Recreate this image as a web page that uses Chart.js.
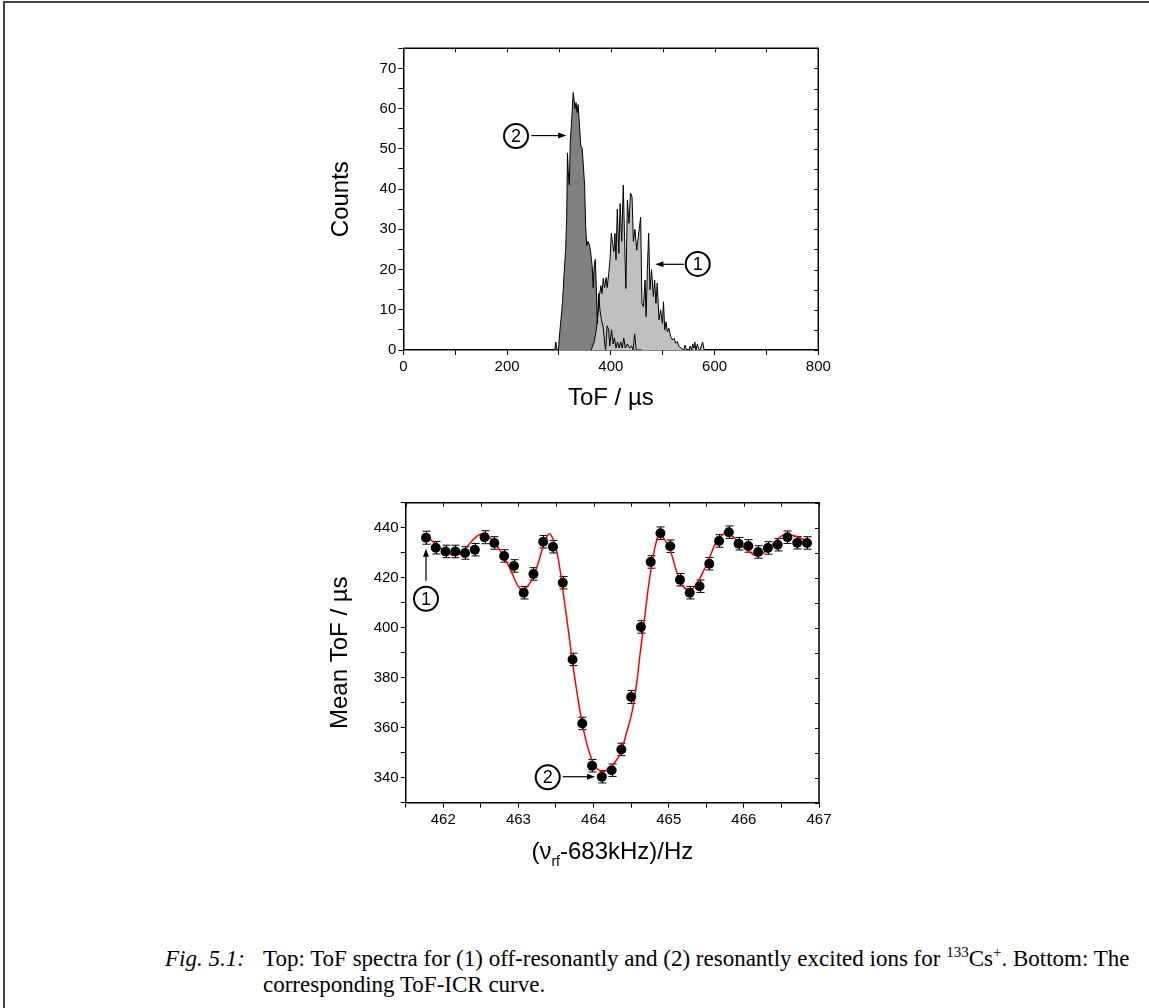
<!DOCTYPE html>
<html>
<head>
<meta charset="utf-8">
<script src="https://cdn.jsdelivr.net/npm/chart.js@4.4.0/dist/chart.umd.min.js"></script>
<style>
  html, body { margin: 0; padding: 0; background: #fff; }
  body { width: 1149px; height: 1008px; position: relative; overflow: hidden; }
  #frame { position: absolute; left: 3px; top: 1px; right: -10px; bottom: -10px;
           border-top: 2px solid #444; border-left: 2px solid #444; }
  #topChart { position: absolute; left: 0; top: 0; }
  #icrChart { position: absolute; left: 0; top: 440px; }
  #caption { position: absolute; left: 165px; top: 946px; width: 984px;
             font-family: "Liberation Serif", "Times New Roman", serif; font-size: 23px;
             line-height: 26px; color: #000; white-space: nowrap; }
  #caption .lbl { display: inline-block; width: 98px; font-style: italic; }
  #caption .l2 { padding-left: 98px; }
  #caption sup { font-size: 15px; line-height: 0; vertical-align: 9px; }
</style>
</head>
<body>
<div id="frame"></div>
<canvas id="topChart" width="1149" height="440"></canvas>
<canvas id="icrChart" width="1149" height="460"></canvas>
<div id="caption">
  <div><span class="lbl">Fig. 5.1:</span>Top: ToF spectra for (1) off-resonantly and (2) resonantly excited ions for <sup>133</sup>Cs<sup>+</sup>. Bottom: The</div>
  <div class="l2">corresponding ToF-ICR curve.</div>
</div>
<script>
// --- top panel: ToF spectra (counts per bin) ---
const tofResonant = [290, 292, 294, 296, 299, 302, 305, 307, 310, 313, 315, 316.5, 318, 320, 322, 325, 327.5, 329.5, 331, 333, 335, 337, 339, 342, 345, 347, 349.5, 351.5, 353.5, 356, 359, 361, 364, 366, 368, 370, 372, 374, 376.5, 379, 382, 385.5, 388, 390, 393, 396, 398, 401.5, 404.5, 407, 410, 413, 416, 419, 422, 425, 428, 432, 436, 440, 443, 446, 449, 460];
const countsResonant = [0, 0, 2, 0, 0, 5, 9, 12, 19, 25, 33, 49, 44, 41, 52, 58, 64, 62, 60, 61.5, 59, 61, 57, 51, 50, 46, 41, 31, 26, 27, 26, 24.5, 21, 15.5, 21, 22.5, 16, 6.5, 14, 10, 7.5, 5.5, 2, 0, 6, 5, 1, 5, 1.5, 3, 0.5, 2, 0.5, 2, 0.5, 3, 0.5, 1.5, 0.5, 1, 0, 4, 0, 0];

const tofOffRes = [362, 368, 373, 376, 378, 381, 383, 385.5, 388, 391, 393, 396, 398.5, 401, 403.5, 406, 408, 410, 412.5, 415.5, 418, 421, 424, 426.5, 429, 432, 435, 438, 441, 443.5, 446.5, 450, 453, 457.5, 460, 463, 466, 468, 470.5, 473, 475.5, 478.5, 482, 484.5, 487, 489.5, 493, 496, 499.5, 501.5, 504, 506.5, 509, 512, 515.5, 519, 522, 525, 528, 532, 537, 541, 543, 546, 551, 553, 556, 558, 560, 562, 564, 567, 569, 572, 577, 580];
const countsOffRes = [0, 2, 6, 10, 13.5, 16, 14, 17.8, 15.5, 18, 15.5, 19, 22.5, 29, 26.5, 24.5, 29, 22.4, 35, 24, 36.4, 27, 41, 28, 15.3, 37.3, 31.5, 39, 38, 27, 30, 24.8, 28, 33, 11.6, 10.8, 17.4, 8.3, 20, 29, 15, 20, 13.3, 17.4, 11.6, 16.6, 7.5, 10, 6.6, 12, 5, 7, 4.5, 5.4, 3.3, 2.5, 2.9, 1.7, 2.1, 0.8, 0.4, 0, 1.2, 0, 0, 1, 0, 1.5, 0.5, 2, 0, 1.5, 0.3, 0, 2, 0];

// --- bottom panel: ToF-ICR resonance ---
const rfFreq = [461.77, 461.90, 462.03, 462.16, 462.29, 462.42, 462.55, 462.68, 462.81, 462.94, 463.07, 463.20, 463.33, 463.46, 463.59, 463.72, 463.85, 463.98, 464.11, 464.24, 464.37, 464.50, 464.63, 464.76, 464.89, 465.02, 465.15, 465.28, 465.41, 465.54, 465.67, 465.80, 465.93, 466.06, 466.19, 466.32, 466.45, 466.58, 466.71, 466.84];
const meanTof = [436.0, 432.0, 430.5, 430.5, 429.9, 431.2, 436.2, 433.9, 428.7, 424.7, 414.0, 421.5, 434.4, 432.4, 418.0, 387.3, 361.7, 344.8, 340.4, 343.0, 351.3, 372.3, 400.3, 426.3, 437.8, 432.6, 419.2, 414.0, 416.6, 425.6, 434.7, 438.2, 433.6, 432.7, 430.3, 431.9, 433.2, 436.2, 434.0, 433.9];
const tofErr = [2.6, 2.5, 2.5, 2.5, 2.5, 2.5, 2.6, 2.5, 2.5, 2.5, 2.5, 2.5, 2.5, 2.5, 2.5, 2.5, 2.5, 2.5, 2.5, 2.5, 2.5, 2.6, 2.5, 2.5, 2.5, 2.5, 2.5, 2.5, 2.5, 2.5, 2.5, 2.5, 2.5, 2.5, 2.5, 2.5, 2.5, 2.5, 2.5, 2.5];

const fitFreq = [461.76, 461.88, 462.00, 462.10, 462.16, 462.25, 462.36, 462.45, 462.53, 462.62, 462.71, 462.80, 462.89, 462.98, 463.05, 463.12, 463.20, 463.28, 463.35, 463.41, 463.46, 463.51, 463.56, 463.61, 463.67, 463.73, 463.79, 463.85, 463.91, 463.98, 464.05, 464.13, 464.20, 464.28, 464.36, 464.43, 464.51, 464.57, 464.62, 464.68, 464.73, 464.79, 464.84, 464.88, 464.93, 465.02, 465.10, 465.18, 465.29, 465.38, 465.46, 465.53, 465.62, 465.70, 465.78, 465.87, 465.96, 466.05, 466.18, 466.30, 466.42, 466.52, 466.60, 466.70, 466.78, 466.84];
const fitTof = [436.9, 434.0, 431.0, 429.3, 429.0, 430.0, 434.0, 436.6, 437.6, 436.0, 433.0, 428.5, 423.5, 417.5, 415.2, 416.5, 420.5, 427.5, 434.5, 437.6, 435.5, 430.5, 422.0, 411.0, 397.7, 384.0, 372.0, 361.5, 353.5, 347.0, 343.5, 342.4, 343.5, 346.0, 350.0, 357.0, 366.0, 377.0, 389.7, 404.0, 416.3, 428.0, 435.0, 437.6, 436.0, 430.9, 423.0, 417.0, 415.2, 418.0, 422.5, 427.0, 433.5, 436.8, 437.6, 436.0, 433.0, 430.9, 428.8, 431.0, 434.5, 437.0, 437.3, 436.5, 435.5, 434.3];

const FONT = "'Liberation Sans', Arial, sans-serif";
const pairs = (xs, ys) => xs.map((x, i) => ({ x, y: ys[i] }));

// box on top/right with inward ticks, like the original plotting program
const mirrorTicks = {
  id: 'mirrorTicks',
  afterDraw(chart) {
    const { ctx, chartArea: a, scales: { x, y } } = chart;
    ctx.save();
    ctx.strokeStyle = '#000';
    ctx.lineWidth = 1.5;
    ctx.beginPath();
    ctx.moveTo(a.left, a.top); ctx.lineTo(a.right, a.top); ctx.lineTo(a.right, a.bottom);
    ctx.stroke();
    ctx.lineWidth = 1;
    ctx.beginPath();
    x.ticks.forEach(t => {
      const px = Math.round(x.getPixelForValue(t.value)) + 0.5;
      ctx.moveTo(px, a.top); ctx.lineTo(px, a.top + 4);
    });
    y.ticks.forEach(t => {
      const py = Math.round(y.getPixelForValue(t.value)) + 0.5;
      ctx.moveTo(a.right, py); ctx.lineTo(a.right - 4, py);
    });
    ctx.stroke();
    ctx.restore();
  }
};

function circledNumber(ctx, cx, cy, text) {
  ctx.beginPath();
  ctx.lineWidth = 2;
  ctx.arc(cx, cy, 12, 0, Math.PI * 2);
  ctx.stroke();
  ctx.font = '18px ' + FONT;
  ctx.textAlign = 'center';
  ctx.textBaseline = 'middle';
  ctx.fillText(text, cx, cy + 1);
}

function arrow(ctx, x1, y1, x2, y2) {
  const ang = Math.atan2(y2 - y1, x2 - x1);
  ctx.lineWidth = 1.2;
  ctx.beginPath();
  ctx.moveTo(x1, y1); ctx.lineTo(x2 - 7 * Math.cos(ang), y2 - 7 * Math.sin(ang));
  ctx.stroke();
  ctx.beginPath();
  ctx.moveTo(x2, y2);
  ctx.lineTo(x2 - 8 * Math.cos(ang) + 3 * Math.sin(ang), y2 - 8 * Math.sin(ang) - 3 * Math.cos(ang));
  ctx.lineTo(x2 - 8 * Math.cos(ang) - 3 * Math.sin(ang), y2 - 8 * Math.sin(ang) + 3 * Math.cos(ang));
  ctx.closePath();
  ctx.fill();
}

// labels: [circleX, circleY, arrowFromX, arrowFromY, arrowToX, arrowToY, text] in data units
function labelPlugin(id, marks) {
  return {
    id,
    afterDraw(chart) {
      const { ctx, scales: { x, y } } = chart;
      ctx.save();
      ctx.strokeStyle = '#000';
      ctx.fillStyle = '#000';
      marks.forEach(m => {
        circledNumber(ctx, x.getPixelForValue(m[0]), y.getPixelForValue(m[1]), m[6]);
        arrow(ctx, x.getPixelForValue(m[2]), y.getPixelForValue(m[3]),
              x.getPixelForValue(m[4]), y.getPixelForValue(m[5]));
      });
      ctx.restore();
    }
  };
}

const tickFont = { family: FONT, size: 15 };
const titleFont = { family: FONT, size: 24 };

new Chart(document.getElementById('topChart'), {
  type: 'line',
  data: {
    datasets: [
      { label: 'resonant outline', data: pairs(tofResonant, countsResonant), borderColor: '#000', borderWidth: 1, fill: false, pointRadius: 0, tension: 0 },
      { label: 'off-resonant', data: pairs(tofOffRes, countsOffRes), borderColor: '#000', borderWidth: 1, backgroundColor: '#c0c0c0', fill: 'origin', pointRadius: 0, tension: 0 },
      { label: 'resonant', data: pairs(tofResonant, countsResonant), borderWidth: 0, borderColor: 'rgba(0,0,0,0)', backgroundColor: '#808080', fill: 'origin', pointRadius: 0, tension: 0 }
    ]
  },
  options: {
    responsive: false,
    animation: false,
    layout: { padding: { left: 326.6, right: 330.7, top: 48.3, bottom: 27.3 } },
    plugins: { legend: { display: false }, tooltip: { enabled: false } },
    scales: {
      x: {
        type: 'linear', min: 0, max: 800,
        ticks: { stepSize: 100, autoSkip: false, maxRotation: 0, padding: 3, color: '#000', font: tickFont,
                 callback: v => (v % 200 === 0 ? String(v) : '') },
        grid: { drawOnChartArea: false, tickLength: 5, color: '#000' },
        border: { color: '#000', width: 1.5 },
        title: { display: true, text: 'ToF / µs', color: '#000', font: titleFont, padding: 0 },
        afterFit: s => { s.height = 62.7; }
      },
      y: {
        min: 0, max: 75,
        ticks: { stepSize: 5, autoSkip: false, padding: 2, color: '#000', font: tickFont,
                 callback: v => (v % 10 === 0 ? String(v) : '') },
        grid: { drawOnChartArea: false, tickLength: 5, color: '#000' },
        border: { color: '#000', width: 1.5 },
        title: { display: true, text: 'Counts', color: '#000', font: titleFont, padding: 0 },
        afterFit: s => { s.width = 76.7; }
      }
    }
  },
  plugins: [mirrorTicks, labelPlugin('topLabels', [
    [217.3, 53.2, 247, 53.3, 314, 53.3, '2'],
    [567.5, 21.4, 541, 21.3, 486, 21.3, '1']
  ])]
});

const errorBars = {
  id: 'errorBars',
  beforeDatasetsDraw(chart) {
    const { ctx, scales: { x, y } } = chart;
    ctx.save();
    ctx.strokeStyle = '#000';
    ctx.lineWidth = 1;
    ctx.beginPath();
    rfFreq.forEach((f, i) => {
      const px = Math.round(x.getPixelForValue(f)) + 0.5;
      const yHi = y.getPixelForValue(meanTof[i] + tofErr[i]);
      const yLo = y.getPixelForValue(meanTof[i] - tofErr[i]);
      ctx.moveTo(px, yHi); ctx.lineTo(px, yLo);
      ctx.moveTo(px - 4, yHi); ctx.lineTo(px + 4, yHi);
      ctx.moveTo(px - 4, yLo); ctx.lineTo(px + 4, yLo);
    });
    ctx.stroke();
    ctx.restore();
  }
};

// x title with a subscript, drawn under the axis
const freqTitle = {
  id: 'freqTitle',
  afterDraw(chart) {
    const { ctx, chartArea: a } = chart;
    const parts = [['(ν', 24, 0], ['rf', 14, 7], ['-683kHz)/Hz', 24, 0]];
    ctx.save();
    ctx.fillStyle = '#000';
    ctx.textBaseline = 'alphabetic';
    ctx.textAlign = 'left';
    let total = 0;
    parts.forEach(p => { ctx.font = p[1] + 'px ' + FONT; total += ctx.measureText(p[0]).width; });
    let cx = (a.left + a.right) / 2 - total / 2;
    const base = a.bottom + 56;
    parts.forEach(p => {
      ctx.font = p[1] + 'px ' + FONT;
      ctx.fillText(p[0], cx, base + p[2]);
      cx += ctx.measureText(p[0]).width;
    });
    ctx.restore();
  }
};

new Chart(document.getElementById('icrChart'), {
  type: 'line',
  data: {
    datasets: [
      { label: 'Mean ToF', data: pairs(rfFreq, meanTof), showLine: false, pointRadius: 5, pointBackgroundColor: '#000', pointBorderColor: '#000', pointBorderWidth: 0 },
      { label: 'fit', data: pairs(fitFreq, fitTof), borderColor: '#ff0000', borderWidth: 1.5, pointRadius: 0, tension: 0.4, fill: false }
    ]
  },
  options: {
    responsive: false,
    animation: false,
    layout: { padding: { left: 325.6, right: 330, top: 62.7, bottom: 47.3 } },
    plugins: { legend: { display: false }, tooltip: { enabled: false } },
    scales: {
      x: {
        type: 'linear', min: 461.5, max: 467,
        ticks: { stepSize: 0.5, autoSkip: false, maxRotation: 0, padding: 3, color: '#000', font: tickFont,
                 callback: v => (Number.isInteger(v) ? String(v) : '') },
        grid: { drawOnChartArea: false, tickLength: 5, color: '#000' },
        border: { color: '#000', width: 1.5 },
        afterFit: s => { s.height = 50; }
      },
      y: {
        min: 330, max: 450,
        ticks: { stepSize: 10, autoSkip: false, padding: 2, color: '#000', font: tickFont,
                 callback: v => (v >= 340 && v <= 440 && (v - 340) % 20 === 0 ? String(v) : '') },
        grid: { drawOnChartArea: false, tickLength: 5, color: '#000' },
        border: { color: '#000', width: 1.5 },
        title: { display: true, text: 'Mean ToF / µs', color: '#000', font: titleFont, padding: 0 },
        afterFit: s => { s.width = 80.1; }
      }
    }
  },
  plugins: [errorBars, mirrorTicks, freqTitle, labelPlugin('icrLabels', [
    [461.77, 411.6, 461.77, 418.8, 461.77, 431.6, '1'],
    [463.39, 340.2, 463.59, 340.4, 464.02, 340.4, '2']
  ])]
});
</script>
</body>
</html>
